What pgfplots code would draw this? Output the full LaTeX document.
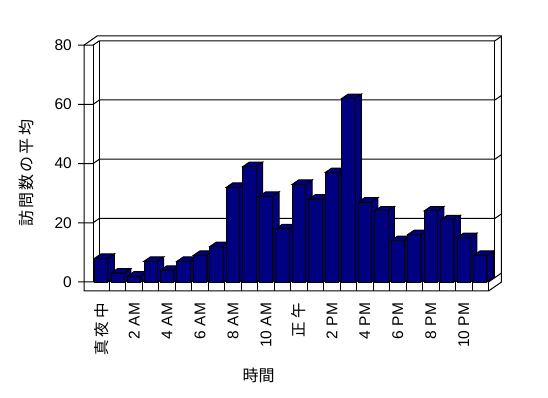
\documentclass[border=0pt]{standalone}
\usepackage{fontspec}
\setmainfont{Liberation Sans}
\newfontfamily\jp{Noto Sans CJK JP}
\newfontfamily\jpt[LetterSpace=20]{Noto Sans CJK JP}
\newfontfamily\jpy[LetterSpace=14]{Noto Sans CJK JP}
\usepackage{pgfplots}
\pgfplotsset{compat=1.18}
\definecolor{barnavy}{RGB}{0,0,128}
\pgfdeclareplotmark{bar3d}{%
  \pgfmathsetmacro{\hn}{-\bv*2.96}%
  \pgfmathsetmacro{\hb}{4.4-\bv*2.96}%
  \filldraw[fill=barnavy, draw=black, line width=1bp, line join=miter]
    (6.65bp,0bp) -- (13.05bp,4.4bp) -- (13.05bp,\hb bp) -- (6.65bp,\hn bp) -- cycle
    (-6.65bp,0bp) -- (-0.25bp,4.4bp) -- (13.05bp,4.4bp) -- (6.65bp,0bp) -- cycle;
  \filldraw[fill=barnavy, draw=black, line width=1bp]
    (-6.65bp,\hn bp) rectangle (6.65bp,0bp);
}
\begin{document}
\begin{tikzpicture}
\useasboundingbox (0,0) rectangle (548bp,398bp);
\fill[white] (0,0) rectangle (548bp,398bp);
% frame (pixel coordinates, y downwards)
\begin{scope}[x=1bp,y=-1bp,shift={(0bp,398bp)},line width=1bp,line join=miter]
  \foreach \v in {0,20,40,60,80}{
    \pgfmathsetmacro{\yf}{282-2.96*\v}
    \pgfmathsetmacro{\yb}{\yf-4.4}
    \pgfmathsetmacro{\yo}{\yb-4.4}
    \draw (78,\yf) -- (93,\yf) -- (99.4,\yb) -- (494.9,\yb) -- (501.3,\yo);
  }
  \draw (84,291) -- (84,45.2) -- (97,36) -- (501.3,36) -- (501.3,282.2) -- (488.5,291) -- cycle;
  \draw (93,282) -- (93,45.2);
  \draw (99.4,40.8) -- (99.4,277.6);
  \draw (494.9,40.8) -- (494.9,277.6);
  \draw (93,282) -- (488.5,282) -- (488.5,291);
  \draw (488.5,282) -- (494.9,277.6);
  \foreach \k in {1,...,23}{
    \pgfmathsetmacro{\xd}{93+16.479*\k}
    \draw (\xd,282) -- (\xd,291);
  }
\end{scope}
\begin{axis}[
  at={(93bp,116bp)}, anchor=south west,
  scale only axis, width=395.5bp, height=236.8bp,
  xmin=0.5, xmax=24.5, ymin=0, ymax=80,
  clip=false,
  axis line style={draw=none},
  major tick length=0pt,
  xtick={1,3,...,23},
  xticklabels={{\jpt 真夜中},2 AM,4 AM,6 AM,8 AM,10 AM,{\jpt 正午},2 PM,4 PM,6 PM,8 PM,10 PM},
  ytick={0,20,...,80},
  tick label style={font=\fontsize{15.5bp}{18bp}\selectfont},
  xticklabel style={rotate=90, anchor=east, inner sep=0pt},
  yticklabel style={anchor=east, inner sep=0pt},
  xticklabel shift=20.7bp, yticklabel shift=21bp,
  /pgf/number format/assume math mode=true,
  xlabel={\jp 時間}, ylabel={\jpy 訪問数の平均},
  label style={font=\fontsize{16bp}{18bp}\selectfont},
  xlabel style={at={(axis description cs:0.419,-0.393)}, anchor=center, inner sep=0pt},
  ylabel style={at={(axis description cs:-0.1674,0.4588)}, anchor=center, inner sep=0pt},
]
\addplot[scatter, only marks, mark=bar3d,
  scatter/@pre marker code/.code={}, scatter/@post marker code/.code={},
  visualization depends on={rawy \as \bv}]
  coordinates {(1,8) (2,3) (3,2) (4,7) (5,4) (6,7) (7,9) (8,12) (9,32) (10,39) (11,29) (12,18)
               (13,33) (14,28) (15,37) (16,62) (17,27) (18,24) (19,14) (20,16) (21,24) (22,21) (23,15) (24,9)};
\end{axis}
\end{tikzpicture}
\end{document}
